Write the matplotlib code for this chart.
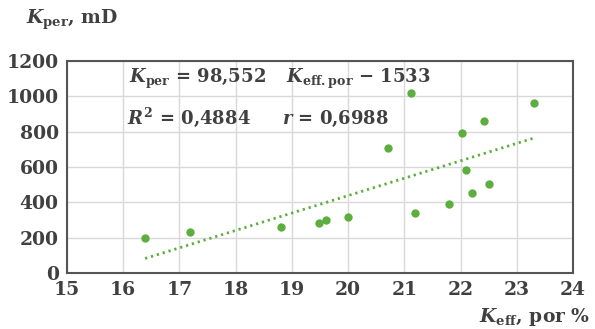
import matplotlib
matplotlib.use("Agg")
import matplotlib.pyplot as plt
import numpy as np

# Effective porosity (%) and permeability (mD) of core samples
porosity = [16.39, 17.19, 18.80, 19.49, 19.60, 19.99, 20.71, 21.11,
            21.19, 21.80, 22.02, 22.10, 22.20, 22.41, 22.50, 23.30]
permeability = [196, 230, 262, 281, 300, 319, 707, 1017,
                341, 390, 795, 581, 451, 862, 505, 964]

# Linear trend reported on the chart
slope = 98.552
intercept = -1533
r_squared_label = "0,4884"
r_label = "0,6988"

x_ticks = [15, 16, 17, 18, 19, 20, 21, 22, 23, 24]
y_ticks = [0, 200, 400, 600, 800, 1000, 1200]

plt.rcParams["font.family"] = ["DejaVu Serif"]
plt.rcParams["font.weight"] = "bold"
plt.rcParams["mathtext.fontset"] = "custom"
plt.rcParams["mathtext.rm"] = "DejaVu Serif:bold"
plt.rcParams["mathtext.it"] = "DejaVu Serif:italic:bold"
plt.rcParams["mathtext.bf"] = "DejaVu Serif:bold"

TEXT = "#404040"
GREEN = "#5cae3e"
GRID = "#d9d9d9"

fig = plt.figure(figsize=(5.95, 3.29), dpi=100)
ax = fig.add_axes([0.1126, 0.1702, 0.963 - 0.1126, 0.8146 - 0.1702])

ax.set_xlim(15, 24)
ax.set_ylim(0, 1200)
ax.set_xticks(x_ticks)
ax.set_yticks(y_ticks)
ax.grid(True, color=GRID, linewidth=1.0)
ax.set_axisbelow(True)
for s in ax.spines.values():
    s.set_color("#555555")
    s.set_linewidth(1.5)
ax.tick_params(length=0, labelsize=13.5, colors=TEXT, pad=6)
for lab in ax.get_xticklabels() + ax.get_yticklabels():
    lab.set_fontweight("bold")

# trend line over the range of the data
xs = np.array([min(porosity), max(porosity)])
ax.plot(xs, slope * xs + intercept, color=GREEN, linewidth=2.0,
        linestyle=(0, (0.8, 1.4)), zorder=2)

ax.plot(porosity, permeability, "o", color=GREEN, markersize=6,
        markeredgewidth=0, zorder=3)

def fx(px):
    return px / 595

def fy(py):
    return 1 - py / 329

eq_kw = dict(transform=fig.transFigure, color=TEXT, fontsize=13,
             va="baseline", ha="left")
fig.text(fx(129), fy(83), r"$K_{\mathrm{per}}$ = 98,552", **eq_kw)
fig.text(fx(286), fy(83), r"$K_{\mathrm{eff.por}}$ $-$ 1533", **eq_kw)
fig.text(fx(127), fy(124), r"$R^{\mathrm{2}}$ = " + r_squared_label, **eq_kw)
fig.text(fx(282), fy(124), r"$r$ = " + r_label, **eq_kw)

fig.text(fx(26), fy(24), r"$K_{\mathrm{per}}$, mD", transform=fig.transFigure,
         color=TEXT, fontsize=13.5, va="baseline", ha="left")
fig.text(fx(590), fy(322), r"$K_{\mathrm{eff}}$, por %", transform=fig.transFigure,
         color=TEXT, fontsize=13.5, va="baseline", ha="right")

fig.savefig("out.png", dpi=100)
